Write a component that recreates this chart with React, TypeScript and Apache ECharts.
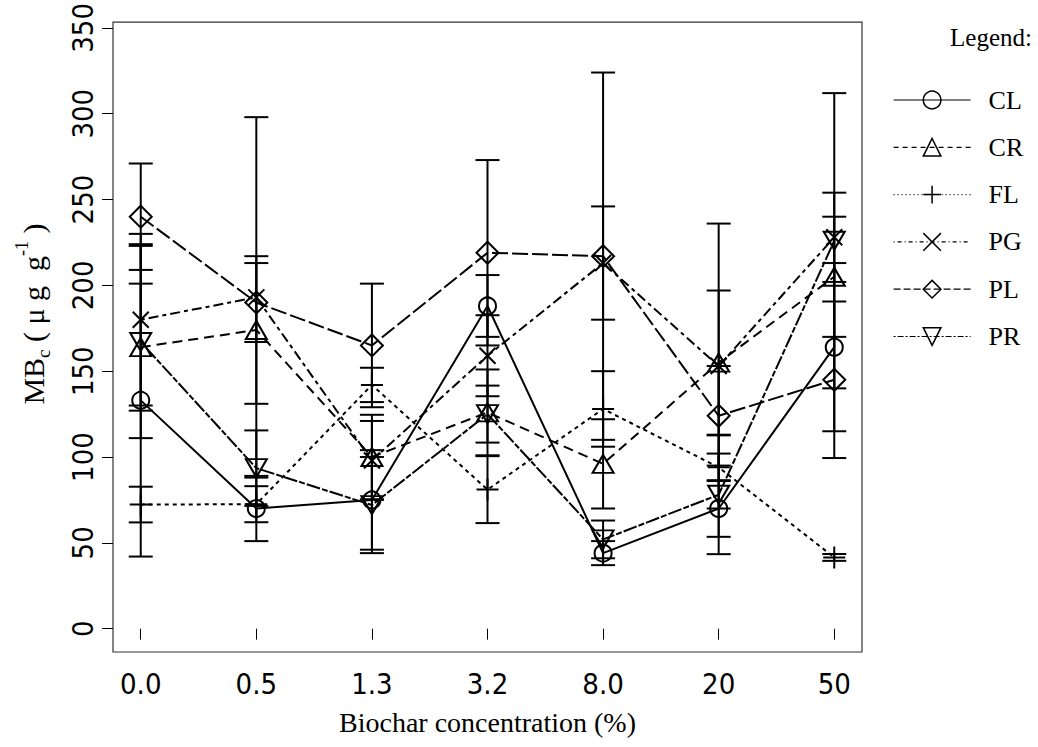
import React, { useEffect, useRef } from "react";
import * as echarts from "echarts";

// ---- data ----
const categories = ["0.0", "0.5", "1.3", "3.2", "8.0", "20", "50"];
const yTicks = [0, 50, 100, 150, 200, 250, 300, 350];
const seriesNames = ["CL", "CR", "FL", "PG", "PL", "PR"];

const CL = [133, 70, 75, 188, 44, 70, 164];
const CL_se = [91, 19, 29, 18, 7, 16.5, 49];
const CR = [164, 174, 100, 126, 96, 155, 205];
const CR_se = [37, 43, 24.6, 25, 26, 42, 35];
const FL = [72.3, 72.5, 142, 81, 128, 94, 41.5];
const FL_se = [10.4, 10.5, 10, 19.5, 22, 8, 2];
const PG = [180, 193, 98, 159, 213, 153, 228];
const PG_se = [50, 105, 23, 23.6, 33, 83, 26];
const PL = [240, 190, 165, 219, 217, 124, 145];
const PL_se = [31, 23, 36, 54, 107, 29, 45.6];
const PR = [167, 93.5, 72, 125, 52, 78, 226];
const PR_se = [56, 22, 28, 16.6, 11, 34.6, 86];

const means = [CL, CR, FL, PG, PL, PR];
const ses = [CL_se, CR_se, FL_se, PG_se, PL_se, PR_se];

// ---- styles ----
const INV_TRI = "path://M0,0 L20,0 L10,17.32 Z";
const CROSS = "path://M0,0 L10,10 M10,0 L0,10";
const PLUS = "path://M5,0 L5,10 M0,5 L10,5";
const symbols: any[] = ["circle", "triangle", PLUS, CROSS, "diamond", INV_TRI];
const symbolSizes: any[] = [17, [21, 18], 22, 16, [22, 22], [21, 18]];
const dashes: any[] = ["solid", [10, 6], [4, 4], [4, 4, 10, 4], [16, 4], [6, 2, 14, 2]];
const legendDashes: any[] = ["solid", [5, 4], [1, 3], [1, 3, 4, 3], [7, 3], [2, 2, 6, 2]];

const SERIF = "'Liberation Serif', 'Times New Roman', serif";
const TICKFONT = "'DejaVu Sans Condensed', 'Liberation Sans Narrow', 'Liberation Sans', sans-serif";

export default function App() {
  const ref = useRef<HTMLDivElement>(null);

  useEffect(() => {
    if (!ref.current) return;
    const chart = echarts.init(ref.current, undefined, { renderer: "svg" });

    const errData: number[][] = [];
    means.forEach((arr, s) => {
      arr.forEach((v, i) => {
        errData.push([i + 1, v - ses[s][i], v + ses[s][i]]);
      });
    });

    const lineSeries = seriesNames.map((name, s) => ({
      name,
      type: "line",
      data: means[s].map((v, i) => [i + 1, v]),
      symbol: symbols[s],
      symbolSize: symbolSizes[s],
      showAllSymbol: true,
      lineStyle: { color: "#000", width: 2, type: dashes[s], cap: "butt" },
      itemStyle: { color: "rgba(0,0,0,0)", borderColor: "#000", borderWidth: 2 },
      emphasis: { disabled: true },
      z: 3,
    }));

    const option: any = {
      animation: false,
      backgroundColor: "#fff",
      grid: {
        left: 113,
        top: 17,
        width: 749,
        height: 635,
        show: true,
        borderColor: "#333",
        borderWidth: 1.2,
        backgroundColor: "transparent",
      },
      xAxis: {
        type: "value",
        min: 0.76,
        max: 7.24,
        axisLine: { show: false },
        splitLine: { show: false },
        axisTick: {
          show: true,
          length: 11,
          customValues: categories.map((_, i) => i + 1),
          lineStyle: { color: "#000", width: 1 },
        },
        axisLabel: {
          customValues: categories.map((_, i) => i + 1),
          formatter: (v: number) => categories[Math.round(v) - 1] ?? "",
          fontFamily: TICKFONT,
          fontSize: 29,
          color: "#000",
          margin: 17,
        },
      },
      yAxis: {
        type: "value",
        min: -13.6,
        max: 353.4,
        axisLine: { show: false },
        splitLine: { show: false },
        axisTick: {
          show: true,
          length: 11,
          customValues: yTicks,
          lineStyle: { color: "#000", width: 1 },
        },
        axisLabel: {
          customValues: yTicks,
          rotate: 90,
          fontFamily: TICKFONT,
          fontSize: 29,
          color: "#000",
          margin: 16,
        },
      },
      legend: {
        orient: "vertical",
        left: 893,
        top: 87,
        padding: 0,
        itemWidth: 77,
        itemHeight: 22,
        itemGap: 21.3,
        selectedMode: false,
        itemStyle: { borderWidth: 1.5 },
        textStyle: {
          fontFamily: SERIF,
          fontSize: 26,
          color: "#000",
          lineHeight: 26,
          padding: [0, 0, 0, 13],
        },
        data: seriesNames.map((name, s) => ({
          name,
          lineStyle: { width: 1.2, type: legendDashes[s], color: "#000" },
        })),
      },
      graphic: [
        {
          type: "text",
          x: 991,
          y: 37,
          style: {
            text: "Legend:",
            fontFamily: SERIF,
            fontSize: 25,
            fill: "#000",
            align: "center",
            verticalAlign: "middle",
          },
        },
        {
          type: "text",
          x: 487.5,
          y: 722,
          style: {
            text: "Biochar concentration (%)",
            fontFamily: SERIF,
            fontSize: 28,
            fill: "#000",
            align: "center",
            verticalAlign: "middle",
          },
        },
        {
          type: "text",
          x: 33,
          y: 314,
          rotation: Math.PI / 2,
          style: {
            text: "{m|MB}{s|c}{m| ( μ g  g}{p|-1}{m| )}",
            align: "center",
            verticalAlign: "middle",
            fill: "#000",
            rich: {
              m: { fontFamily: SERIF, fontSize: 30, lineHeight: 40, fill: "#000" },
              s: { fontFamily: SERIF, fontSize: 19, lineHeight: 22, verticalAlign: "bottom", fill: "#000" },
              p: { fontFamily: SERIF, fontSize: 18, lineHeight: 20, verticalAlign: "top", fill: "#000" },
            },
          },
        },
      ],
      series: [
        {
          name: "errorbars",
          type: "custom",
          data: errData,
          encode: { x: 0, y: [1, 2] },
          z: 2,
          silent: true,
          renderItem: (params: any, api: any) => {
            const x = api.value(0);
            const lo = api.coord([x, api.value(1)]);
            const hi = api.coord([x, api.value(2)]);
            const w = 12;
            const st = { stroke: "#000", lineWidth: 2 };
            return {
              type: "group",
              children: [
                { type: "line", shape: { x1: lo[0], y1: lo[1], x2: hi[0], y2: hi[1] }, style: st },
                { type: "line", shape: { x1: lo[0] - w, y1: lo[1], x2: lo[0] + w, y2: lo[1] }, style: st },
                { type: "line", shape: { x1: hi[0] - w, y1: hi[1], x2: hi[0] + w, y2: hi[1] }, style: st },
              ],
            };
          },
        },
        ...lineSeries,
      ],
    };

    chart.setOption(option);
    return () => chart.dispose();
  }, []);

  return (
    <div
      ref={ref}
      style={{ position: "absolute", left: 0, top: 0, width: 1038, height: 747, background: "#fff" }}
    />
  );
}
